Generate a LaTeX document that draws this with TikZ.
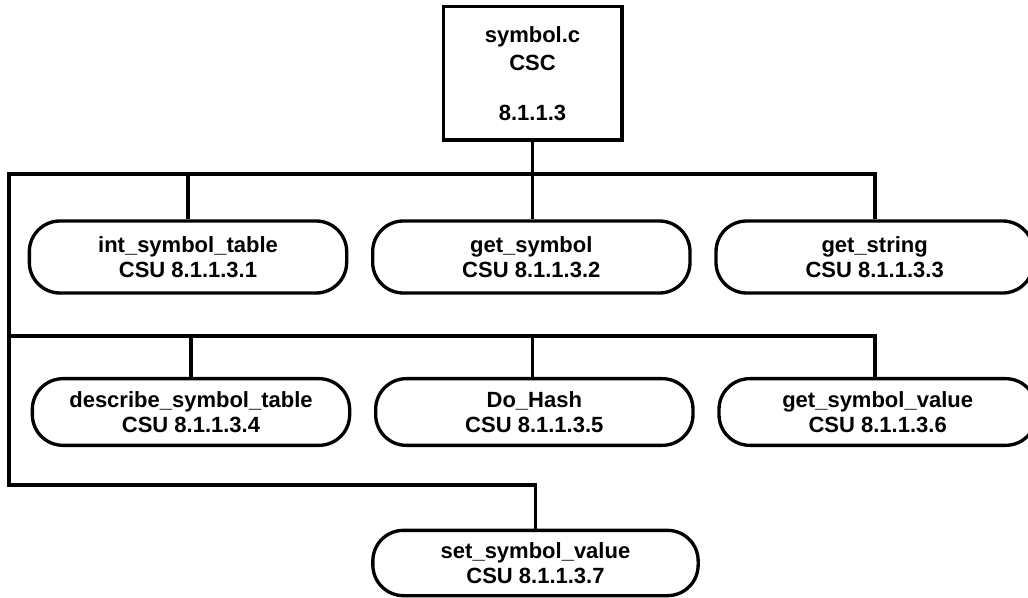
\documentclass[tikz,border=0pt]{standalone}
\usepackage{fontspec}
\setmainfont{Liberation Sans}
\usetikzlibrary{positioning}

\begin{document}
\begin{tikzpicture}[
  x=0.75pt, y=-0.75pt,
  every node/.style={align=center, font=\fontsize{16.5}{18.5}\selectfont\bfseries, line width=2.5pt, inner sep=0pt},
  cscbox/.style={draw, minimum width=134pt, minimum height=100pt},
  csubox/.style={draw, rounded corners=23pt, minimum width=238pt, minimum height=50pt},
  bus/.style={draw, line width=2.5pt},
  node distance=17pt
]
\useasboundingbox (0,0) rectangle (1028,598);

\node[cscbox] (csc) at (532.5,73.5) {symbol.c\\[3pt]CSC\\[19pt]8.1.1.3};

\node[csubox, minimum height=54pt] (u1) at (188,257) {int\_symbol\_table\\CSU 8.1.1.3.1};
\node[csubox, minimum height=54pt, right=of u1] (u2) {get\_symbol\\CSU 8.1.1.3.2};
\node[csubox, minimum height=54pt, right=of u2] (u3) {get\_string\\CSU 8.1.1.3.3};

\node[csubox] (u4) at (191,412) {describe\_symbol\_table\\CSU 8.1.1.3.4};
\node[csubox, right=of u4] (u5) {Do\_Hash\\CSU 8.1.1.3.5};
\node[csubox, right=of u5] (u6) {get\_symbol\_value\\CSU 8.1.1.3.6};

\node[csubox, minimum width=244pt, minimum height=49pt] (u7) at (535.5,563) {set\_symbol\_value\\CSU 8.1.1.3.7};

% bus lines
\coordinate (j1w) at (9,174);
\coordinate (j1e) at (875,174);
\coordinate (j2w) at (9,336);
\coordinate (j2e) at (875,336);
\coordinate (j3w) at (9,485);

\draw[bus] (csc.south) -- (csc.south |- u2.north);
\draw[bus] (u3.north -| j1e) -- (j1e) -- (j1w) -- (j3w) -- (j3w -| u7.north) -- (u7.north);
\draw[bus] (u1.north) -- (u1.north |- j1w);
\draw[bus] (u6.north -| j2e) -- (j2e) -- (j2w);
\draw[bus] (u4.north) -- (u4.north |- j2w);
\draw[bus] (csc.south |- j2w) -- (csc.south |- u5.north);
\end{tikzpicture}
\end{document}
